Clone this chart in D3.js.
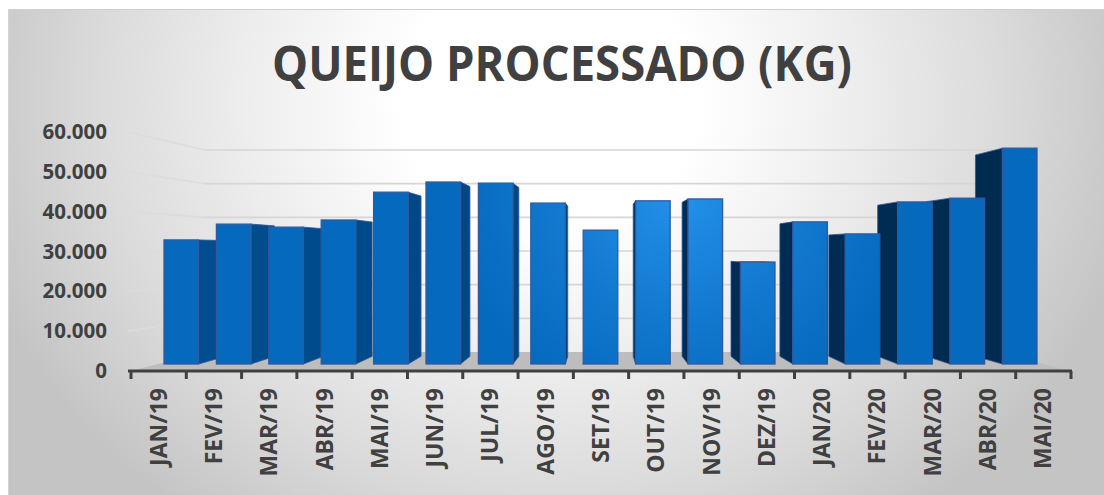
<!DOCTYPE html>
<html>
<head>
<meta charset="utf-8">
<script src="https://cdn.jsdelivr.net/npm/d3@7/dist/d3.min.js"></script>
<style>
  html, body { margin: 0; padding: 0; background: #fff; overflow: hidden; }
  text { font-family: "Open Sans", sans-serif; font-weight: 700; fill: #404040; }
</style>
</head>
<body>
<svg id="chart" width="1104" height="495"></svg>
<script>
let months = ['JAN/19','FEV/19','MAR/19','ABR/19','MAI/19','JUN/19','JUL/19','AGO/19','SET/19','OUT/19','NOV/19','DEZ/19','JAN/20','FEV/20','MAR/20','ABR/20','MAI/20']
let kilos = [33000,37200,36400,38300,45700,48400,48100,42800,35600,43400,43900,27100,37800,34600,43100,44100,57400]
let yTicks = [0,10000,20000,30000,40000,50000,60000]

let svg = d3.select('#chart')
let defs = svg.append('defs')

// panel background, light in the middle and grey at the corners
let panelGrad = defs.append('radialGradient')
    .attr('id', 'panelGrad')
    .attr('gradientUnits', 'userSpaceOnUse')
    .attr('cx', 0).attr('cy', 0).attr('r', 600)
    .attr('gradientTransform', 'translate(550,100) scale(1,0.87)')
panelGrad.append('stop').attr('offset', 0.25).attr('stop-color', '#ffffff')
panelGrad.append('stop').attr('offset', 0.5).attr('stop-color', '#eeeeee')
panelGrad.append('stop').attr('offset', 0.75).attr('stop-color', '#dbdbdb')
panelGrad.append('stop').attr('offset', 1).attr('stop-color', '#c4c4c4')

let barGrad = defs.append('radialGradient')
    .attr('id', 'barGrad')
    .attr('gradientUnits', 'userSpaceOnUse')
    .attr('cx', 680).attr('cy', 190).attr('r', 230)
barGrad.append('stop').attr('offset', 0).attr('stop-color', '#2491ea')
barGrad.append('stop').attr('offset', 0.55).attr('stop-color', '#1279d0')
barGrad.append('stop').attr('offset', 1).attr('stop-color', '#0569bd')

let sideGrad = defs.append('linearGradient')
    .attr('id', 'sideGrad')
    .attr('gradientUnits', 'userSpaceOnUse')
    .attr('x1', 200).attr('x2', 1000).attr('y1', 0).attr('y2', 0)
sideGrad.append('stop').attr('offset', 0).attr('stop-color', '#004d90')
sideGrad.append('stop').attr('offset', 0.45).attr('stop-color', '#00467f')
sideGrad.append('stop').attr('offset', 0.6).attr('stop-color', '#002c56')
sideGrad.append('stop').attr('offset', 1).attr('stop-color', '#002b50')

svg.append('rect')
    .attr('x', 9).attr('y', 9)
    .attr('width', 1095).attr('height', 486)
    .attr('fill', 'url(#panelGrad)')
svg.append('line')
    .attr('x1', 9).attr('x2', 1104).attr('y1', 9.5).attr('y2', 9.5)
    .attr('stroke', '#cfcfcf')
svg.append('line')
    .attr('x1', 8.5).attr('x2', 8.5).attr('y1', 9).attr('y2', 495)
    .attr('stroke', '#d4d4d4')

svg.append('text')
    .attr('x', 562).attr('y', 81)
    .attr('text-anchor', 'middle')
    .attr('font-size', 48)
    .attr('textLength', 580)
    .attr('lengthAdjust', 'spacingAndGlyphs')
    .text('QUEIJO PROCESSADO (KG)')

// three value planes: axis at the front, the bars a bit behind it, the wall at the back
let yFront = d3.scaleLinear().domain([0,60000]).range([371,132])
let yBar = d3.scaleLinear().domain([0,60000]).range([364,138.4])
let yBack = d3.scaleLinear().domain([0,60000]).range([352,150])

let xAxisScale = d3.scaleBand().domain(months).range([131,1071])
let xBar = d3.scaleBand().domain(months).range([164,1037]).paddingInner(0.34).paddingOuter(0)

// how far the bars run towards the vanishing point
let vanish = {x: 600, y: 250}
let depth = 0.067
let backX = x => x+(vanish.x-x)*depth
let backY = y => y+(vanish.y-y)*depth

let wallLeft = 205
let wallRight = 995

svg.append('polygon')
    .attr('points', [[131,371],[wallLeft,352],[wallRight,352],[1071,371]].join(' '))
    .attr('fill', '#bdbdbd')

let grid = svg.append('g').attr('fill', 'none').attr('stroke-width', 1.6)
yTicks.filter(d => d > 0).forEach(d => {
    grid.append('line')
        .attr('x1', 128).attr('y1', yFront(d))
        .attr('x2', wallLeft).attr('y2', yBack(d))
        .attr('stroke', '#dcdcdc')
    grid.append('line')
        .attr('x1', wallLeft).attr('y1', yBack(d))
        .attr('x2', wallRight).attr('y2', yBack(d))
        .attr('stroke', '#d6d6d6')
})

let sides = svg.append('g')
let fronts = svg.append('g')

months.forEach((m, i) => {
    let left = xBar(m)
    let right = left+xBar.bandwidth()
    let top = yBar(kilos[i])
    let bottom = yBar(0)
    // the face nearest the middle of the chart is the one we can see
    let edge = right < vanish.x ? right : left
    if (left > vanish.x || right < vanish.x) {
        sides.append('polygon')
            .attr('points', [[edge,top],[backX(edge),backY(top)],[backX(edge),backY(bottom)],[edge,bottom]].join(' '))
            .attr('fill', 'url(#sideGrad)')
            .attr('stroke', '#2f5597')
            .attr('stroke-width', 0.8)
    }
    if (top > vanish.y) {
        sides.append('polygon')
            .attr('points', [[left,top],[right,top],[backX(right),backY(top)],[backX(left),backY(top)]].join(' '))
            .attr('fill', '#1f6fc0')
    }
    fronts.append('rect')
        .attr('x', left).attr('y', top)
        .attr('width', xBar.bandwidth()).attr('height', bottom-top)
        .attr('fill', 'url(#barGrad)')
        .attr('stroke', '#2f5aa0')
        .attr('stroke-width', 1.3)
})

// axis at the front
let xAxis = svg.append('g')
    .attr('transform', 'translate(0,371)')
    .call(d3.axisBottom(xAxisScale).tickValues([]).tickSize(0))
xAxis.select('.domain').attr('stroke', '#404040').attr('stroke-width', 3).attr('d', 'M128,0H1072')
d3.range(months.length+1).forEach(i => {
    let x = i < months.length ? xAxisScale(months[i]) : xAxisScale.range()[1]
    xAxis.append('line')
        .attr('x1', x).attr('x2', x)
        .attr('y1', 0).attr('y2', 8)
        .attr('stroke', '#404040').attr('stroke-width', 3)
})

svg.append('g').selectAll('text')
    .data(months)
    .join('text')
    .attr('transform', d => 'translate('+(xAxisScale(d)+xAxisScale.bandwidth()/2+8)+',388) rotate(-90)')
    .attr('text-anchor', 'end')
    .attr('font-size', 23)
    .text(d => d)

svg.append('g').selectAll('text')
    .data(yTicks)
    .join('text')
    .attr('x', 107)
    .attr('y', d => yFront(d)+7)
    .attr('text-anchor', 'end')
    .attr('font-size', 20.5)
    .text(d => d3.format(',')(d).replace(/,/g, '.'))
</script>
</body>
</html>
